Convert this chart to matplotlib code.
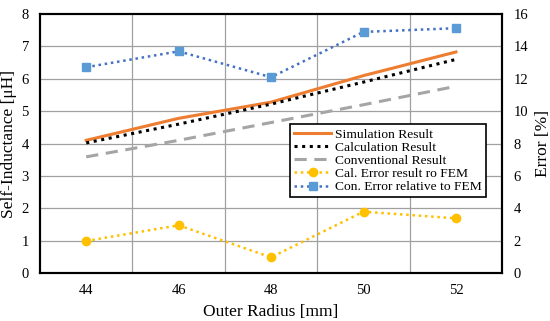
import numpy as np
import matplotlib
matplotlib.use('Agg')
import matplotlib.pyplot as plt

plt.rcParams['font.family'] = ['Liberation Serif', 'DejaVu Serif']

radius = ['44', '46', '48', '50', '52']
simulation = [4.1, 4.78, 5.28, 6.1, 6.83]
calculation = [4.02, 4.6, 5.22, 5.9, 6.6]
conventional = [3.59, 4.1, 4.65, 5.2, 5.77]
cal_error = [1.98, 2.95, 0.97, 3.79, 3.38]
con_error = [12.72, 13.7, 12.1, 14.9, 15.13]

x = np.arange(len(radius))

fig = plt.figure(figsize=(5.5, 3.21), dpi=100)
ax = fig.add_axes([0.0727, 0.1495, 0.8403, 0.8065])
ax2 = ax.twinx()

l1, = ax.plot(x, simulation, color='#ED7D31', lw=2.2, label='Simulation Result')
l2, = ax.plot(x, calculation, color='black', lw=2.2, ls=(0, (1, 1.5)), label='Calculation Result')
l3, = ax.plot(x, conventional, color='#A5A5A5', lw=2.2, ls=(0, (4, 2.5)), label='Conventional Result')
l4, = ax2.plot(x, cal_error, color='#FFC000', lw=1.8, ls=(0, (1, 1.5)), marker='o', ms=6,
               label='Cal. Error result ro FEM')
l5, = ax2.plot(x, con_error, color='#4472C4', lw=1.8, ls=(0, (1, 1.5)), marker='s', ms=6,
               mfc='#5B9BD5', mec='#5B9BD5', label='Con. Error relative to FEM')

ax.set_xlim(-0.5, 4.5)
ax.set_ylim(0, 8)
ax2.set_ylim(0, 16)
ax.set_xticks(x)
ax.set_xticklabels(radius)
ax.set_yticks(np.arange(0, 9, 1))
ax2.set_yticks(np.arange(0, 17, 2))

# gridlines: horizontal every unit, vertical between categories
for yv in range(1, 8):
    ax.axhline(yv, color='#A0A0A0', lw=0.9, zorder=0)
for xv in np.arange(0.5, 4.5, 1):
    ax.axvline(xv, color='#A0A0A0', lw=0.9, zorder=0)

for a in (ax, ax2):
    a.tick_params(length=0, labelsize=10.5, pad=8)
    for s in a.spines.values():
        s.set_linewidth(1.5)
        s.set_color('black')

ax.set_xlabel('Outer Radius [mm]', fontsize=12.5, labelpad=5)
ax.set_ylabel('Self-Inductance [\u03bcH]', fontsize=12.5, labelpad=3)
ax2.set_ylabel('Error [%]', fontsize=12.5, labelpad=5)

leg = ax2.legend(handles=[l1, l2, l3, l4, l5], loc='upper left',
                 bbox_to_anchor=(0.527, 0.6), fontsize=9.7, frameon=True,
                 fancybox=False, edgecolor='black', framealpha=1,
                 handlelength=2.7, borderpad=0.3, labelspacing=0.05, handletextpad=0.35)
leg.get_frame().set_linewidth(1.2)

fig.savefig('out.png', dpi=100)
